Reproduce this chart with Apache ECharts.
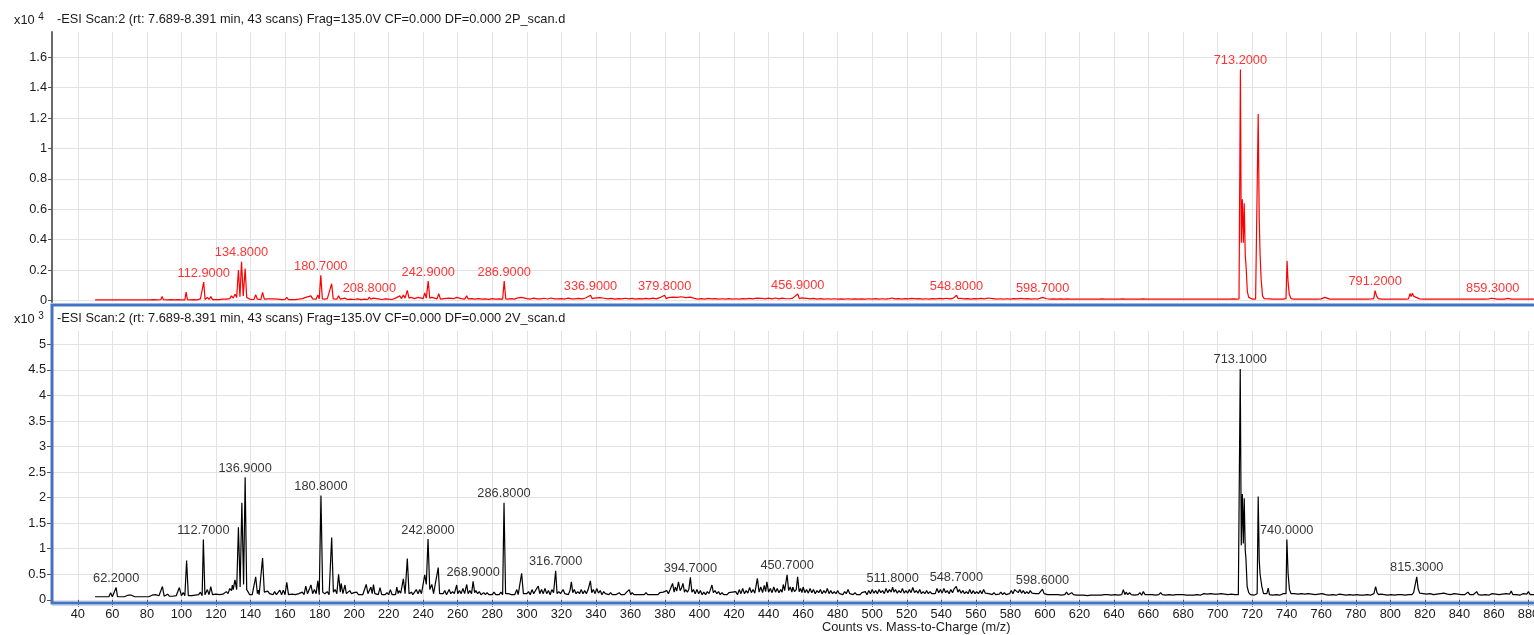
<!DOCTYPE html>
<html>
<head>
<meta charset="utf-8">
<title>ESI scan spectra</title>
<script src="https://cdn.jsdelivr.net/npm/echarts@6/dist/echarts.min.js"></script>
<style>
  html, body { margin: 0; padding: 0; background: #fff; overflow: hidden; }
  #chart { width: 1534px; height: 635px; }
</style>
</head>
<body>
<div id="chart"></div>
<script>
// tick labels
const mzTicks = [40, 60, 80, 100, 120, 140, 160, 180, 200, 220, 240, 260, 280, 300, 320, 340, 360, 380, 400,
  420, 440, 460, 480, 500, 520, 540, 560, 580, 600, 620, 640, 660, 680, 700, 720, 740, 760, 780, 800,
  820, 840, 860, 880]
const topTicks = [0, 0.2, 0.4, 0.6, 0.8, 1, 1.2, 1.4, 1.6]
const bottomTicks = [0, 0.5, 1, 1.5, 2, 2.5, 3, 3.5, 4, 4.5, 5]

const topTitle = '-ESI Scan:2 (rt: 7.689-8.391 min, 43 scans) Frag=135.0V CF=0.000 DF=0.000 2P_scan.d'
const bottomTitle = '-ESI Scan:2 (rt: 7.689-8.391 min, 43 scans) Frag=135.0V CF=0.000 DF=0.000 2V_scan.d'
const xName = 'Counts vs. Mass-to-Charge (m/z)'

// 2P scan, counts x10^4  [m/z, counts]
const topSpectrum = [
  [50,.003],[52,.003],[54,.003],[56,.003],[58,.004],[59,.008],[60,.003],[62,.004],[64,.003],[66,.003],[68,.003],
  [70,.004],[70.8,.009],[71.6,.003],[74,.003],[76,.003],[78,.003],[80,.003],[82,.004],[84,.005],[86,.004],[88,.005],
  [88.8,.026],[89.6,.005],[92,.004],[94,.005],[96,.004],[98,.005],[99,.01],[100,.004],[101,.006],[102,.004],
  [102.7,.055],[103.5,.005],[105,.004],[107,.005],[109,.004],[110,.006],[111,.01],[112,.005],[112.9,.12],[113.7,.006],
  [115,.02],[116,.006],[117,.025],[118,.005],[120,.006],[122,.005],[124,.008],[125,.015],[126,.008],[127,.02],
  [128,.012],[129,.03],[130,.015],[131,.04],[132,.02],[133,.2],[133.9,.025],[134.8,.255],[135.8,.03],[136.9,.21],
  [137.8,.02],[138.7,.01],[140,.006],[141,.005],[142,.006],[143,.037],[144,.008],[145,.012],[146,.006],[147,.053],
  [148,.008],[149,.006],[150,.01],[151,.005],[153,.01],[154,.005],[156,.008],[157,.012],[158,.005],[159,.012],
  [160,.006],[161,.02],[162,.005],[164,.006],[166,.005],[168,.008],[170,.012],[171,.006],[172,.02],[173,.008],
  [175,.03],[176,.01],[177,.015],[178,.008],[179,.035],[179.8,.01],[180.7,.165],[181.6,.01],[183,.008],[184.5,.012],
  [185.5,.006],[187,.11],[187.9,.01],[189,.012],[190,.008],[191,.03],[192,.008],[193,.012],[194.7,.015],[196,.006],
  [198,.008],[200,.006],[202,.01],[204,.005],[206,.008],[207,.015],[208,.006],[208.8,.022],[209.7,.008],[211,.015],
  [212,.006],[214,.01],[215,.015],[216,.006],[218,.01],[220,.008],[221,.012],[222,.006],[224,.015],[225,.008],
  [226.5,.03],[227.5,.012],[228.5,.035],[229.5,.015],[230.8,.066],[231.8,.015],[233,.02],[234,.01],[235,.012],
  [237,.02],[238,.008],[240,.012],[240.9,.05],[241.8,.015],[242.9,.127],[243.8,.015],[245,.02],[246,.008],[248,.01],
  [249,.044],[250,.008],[252,.012],[253,.006],[255,.015],[256,.008],[258,.012],[259.4,.02],[260.5,.008],[262,.012],
  [263,.015],[264,.008],[265.2,.03],[266,.01],[268,.012],[269,.02],[270,.008],[272,.012],[274,.008],[276,.01],
  [278,.007],[280,.012],[282,.008],[284,.01],[285,.015],[286,.008],[286.9,.127],[287.8,.01],[289,.008],[291,.012],
  [293,.008],[294.2,.015],[295,.008],[297,.02],[298,.008],
  [300,.012],[302,.009],[304,.015],[306,.01],[307,.02],[308,.01],[310,.014],[312,.009],[314,.016],[316,.01],
  [317,.02],[318,.01],[320,.012],[322,.009],[324,.015],[326,.01],[327,.022],[328,.01],[330,.013],[332,.01],
  [334,.016],[335,.01],[336.9,.034],[337.8,.012],[339,.015],[340,.01],[342,.018],[343,.01],[345,.014],[347,.01],
  [349,.013],[351,.009],[353,.012],[355,.01],[357,.014],[359,.01],[361,.013],[363,.009],[365,.012],[367,.01],
  [369,.013],[371,.01],[373,.015],[375,.01],[377,.018],[378,.011],[379.8,.034],[380.7,.012],[382,.018],[383,.01],
  [384.5,.022],[385.5,.011],[387,.02],[388,.012],[389.5,.024],[390.5,.011],[392,.018],[393,.01],[394.7,.022],
  [395.6,.01],[397,.013],[399,.009],[401,.012],[403,.009],[405,.013],[407,.01],[409,.012],[411,.009],[413,.011],
  [415,.009],[417,.012],[419,.009],[421,.011],[423,.009],[425,.012],[427,.01],[429,.013],[431,.01],[433,.015],
  [434,.01],[436,.014],[438,.01],[440,.015],[442,.01],[444,.016],[446,.01],[448,.015],[450,.011],[451,.02],
  [452,.011],[454,.015],[455,.01],[456.9,.042],[457.8,.012],[459,.016],[460,.01],[462,.014],[464,.01],[466,.013],
  [468,.009],[470,.012],[472,.009],[474,.011],[476,.009],[478,.011],[480,.009],[482,.01],[484,.008],[486,.011],
  [488,.009],[490,.01],[492,.008],[494,.01],[496,.009],[498,.011],[500,.009],[502,.012],[504,.009],[506,.011],
  [508,.009],[510,.012],[511.8,.016],[513,.01],[515,.012],[517,.009],[519,.012],[521,.01],[523,.013],[525,.01],
  [527,.012],[529,.009],[531,.011],[533,.009],[535,.012],[537,.01],[539,.013],[541,.01],[543,.014],[545,.01],
  [547,.015],[548,.01],[548.8,.034],[549.7,.012],[551,.014],[553,.01],[555,.012],[557,.009],[559,.012],[561,.01],
  [563,.013],[565,.01],[567,.016],[568,.01],[570,.012],[572,.009],[574,.011],[576,.009],[578,.011],[580,.009],
  [582,.012],[584,.01],[586,.013],[588,.01],[590,.012],[592,.009],[594,.011],[596,.009],[598.7,.02],[599.6,.01],
  [601,.011],[603,.009],[605,.01],[607,.008],[609,.01],[611,.008],[613,.01],[615,.008],[617,.009],[619,.008],
  [621,.009],[623,.008],[625,.009],[627,.008],[629,.009],[631,.008],[633,.01],[635,.008],[637,.009],[639,.008],
  [641,.009],[643,.008],[645,.01],[647,.008],[649,.009],[651,.008],[653,.009],[655,.008],[657,.01],[659,.008],
  [661,.009],[663,.008],[665,.009],[667,.008],[669,.009],[671,.008],[673,.009],[675,.008],[677,.009],[679,.008],
  [681,.009],[683,.008],[685,.009],[687,.008],[689,.009],[691,.008],[693,.009],[695,.008],[697,.009],[699,.008],
  [701,.009],[703,.008],[705,.009],[707,.008],[709,.01],[711,.008],[712.4,.01],[713.2,1.52],[713.7,.38],[714.3,.665],
  [714.9,.38],[715.4,.64],[716,.3],[716.5,.22],[717.2,.06],[718,.02],[719,.01],[720,.009],[721,.008],[722,.009],
  [722.9,.012],[723.5,1.227],[724.1,.53],[724.6,.3],[725.2,.14],[726,.03],[727,.012],[728,.009],[730,.01],[732,.008],
  [734,.009],[736,.008],[738,.009],[739.6,.012],[740.2,.26],[740.8,.12],[741.5,.04],[742.5,.012],[744,.009],
  [746,.008],[748,.009],[750,.008],[752,.009],[754,.008],[756,.009],[758,.008],[760,.01],[761,.009],[762,.02],
  [763,.009],[765,.008],[767,.009],[769,.008],[771,.009],[773,.008],[775,.009],[777,.008],[779,.009],[781,.008],
  [783,.009],[785,.008],[787,.009],[789,.01],[790.4,.012],[791.2,.064],[792,.03],[793,.012],[795,.009],[797,.008],
  [799,.009],[801,.008],[803,.009],[805,.008],[807,.009],[809,.008],[810.5,.01],[811.4,.045],[812,.025],[812.8,.047],
  [813.5,.028],[814.2,.04],[815,.02],[816,.015],[817,.01],[819,.009],[821,.008],[823,.009],[825,.008],[827,.009],
  [829,.008],[831,.009],[833,.008],[835,.009],[837,.008],[839,.009],[841,.008],[843,.009],[845,.008],[847,.009],
  [849,.008],[851,.009],[853,.008],[855,.009],[857,.01],[858.5,.014],[859.3,.02],[860.2,.012],[862,.009],[864,.008],
  [866,.009],[868,.013],[870,.009],[872,.008],[874,.009],[876,.008],[878,.009],[880,.008],[882,.009],[883.2,.008]
]

// 2V scan, counts x10^3  [m/z, counts]
const bottomSpectrum = [
  [50,.06],[51,.06],[52,.06],[53,.06],[54,.06],[55,.06],[56,.06],[57,.07],[58,.06],[59,.14],
  [60,.06],[61,.07],[62.2,.24],[63,.06],[64,.06],[65,.06],[66,.06],[67,.06],[68,.07],[69,.09],
  [70,.06],[71,.09],[72,.06],[73,.06],[74,.06],[75,.06],[76,.06],[77,.06],[78,.06],[79,.06],
  [80,.06],[81,.06],[82,.07],[83,.09],[84,.08],[85,.1],[86,.07],[87,.08],[88,.09],[89,.26],
  [90,.07],[91,.07],[92,.11],[93,.07],[94,.08],[95,.07],[96,.07],[97,.08],[98,.1],[98.8,.24],
  [100,.08],[101,.14],[102,.08],[103,.77],[104,.08],[105,.07],[106,.08],[107,.08],[108,.09],[109,.08],
  [110,.1],[111,.15],[112,.08],[112.7,1.18],[113.6,.1],[114,.12],[115,.2],[116,.1],[117,.26],[118,.1],
  [119,.09],[120,.11],[121,.09],[122,.1],[123,.09],[124,.11],[125,.1],[126,.16],[127,.12],[128,.22],[129,.18],[129.5,.29],
  [130,.2],[131,.39],[132,.2],[133,1.42],[134,.25],[135,1.9],[136,.3],[136.9,2.4],[137.8,.2],[138.7,.15],[139.5,.1],
  [140,.12],[141,.1],[142,.1],[143,.45],[144,.12],[144.5,.19],[145,.1],[146,.12],[147,.82],[148,.15],[149,.13],
  [150,.17],[151,.12],[152,.15],[153,.1],[154,.16],[155,.1],[156,.1],[157,.19],[158,.1],[159,.19],
  [160,.1],[161,.34],[162,.1],[163,.09],[164,.11],[165,.09],[166,.1],[167,.09],[168,.12],[169,.1],
  [170,.15],[171,.1],[172,.27],[173,.12],[174,.2],[175,.29],[176,.12],[177,.2],[178,.12],[179,.37],
  [179.8,.1],[180.8,2.04],[181.8,.15],[183,.12],[184.5,.16],[185.5,.1],[187,1.22],[188,.15],[189,.2],
  [190,.12],[191,.5],[192,.15],[192.5,.32],[193.5,.12],[194.7,.29],[195.5,.12],[196,.15],[197.5,.18],[198.5,.12],[199,.1],
  [200,.14],[201.5,.15],[202.5,.1],[203.5,.12],[205,.1],[206,.12],[207,.3],[208,.12],[209.7,.25],
  [210.5,.12],[211.2,.3],[212,.12],[213,.14],[214,.1],[215,.24],[216,.1],[217,.12],[218,.1],[219,.14],
  [220,.1],[221,.2],[222,.1],[223,.12],[224,.1],[224.7,.25],[225.5,.12],[226,.18],[227,.13],[228.5,.41],[229.5,.12],
  [230.8,.81],[231.8,.12],[233.3,.15],[234,.1],[235,.15],[236,.2],[237,.12],[238,.2],[239,.12],
  [240,.15],[240.9,.49],[241.8,.3],[242.8,1.19],[243.8,.2],[245,.3],[246,.12],[247,.1],[248.7,.63],[249.5,.12],
  [250.5,.15],[251.5,.12],[252.5,.18],[253.5,.1],[255,.2],[256,.12],[257,.16],[258,.12],[259.4,.29],[260,.12],
  [261,.18],[262,.12],[263,.22],[264,.12],[265.2,.3],[266,.12],[267,.18],[268,.12],[268.9,.36],[269.8,.14],
  [270.5,.18],[271.5,.12],[272.5,.16],[273.5,.1],[275,.14],[276,.1],[277,.14],[278,.1],[279,.12],
  [280,.1],[281,.15],[282,.1],[283,.13],[284,.1],[285,.15],[286,.1],[286.8,1.9],[287.7,.12],[288.5,.1],[289.5,.12],
  [290.3,.15],[291,.1],[292,.12],[293,.1],[294.2,.2],[295,.1],[296,.12],[297,.52],[298,.12],[299,.15],
  [300,.12],[301,.16],[302,.1],[303,.2],[304,.12],[305,.18],[306.6,.27],[307.5,.12],[308.5,.2],[309.5,.12],
  [310.5,.22],[311.5,.12],[312.5,.18],[313.5,.1],[314.5,.2],[315.5,.14],[316.7,.57],[317.5,.12],[318.5,.16],[319.5,.12],
  [321,.2],[322,.12],[323,.15],[324,.1],[325,.18],[325.8,.35],[326.6,.14],[327.5,.2],[328.5,.12],[329.5,.16],
  [330.5,.12],[331.5,.2],[332.5,.12],[333.5,.18],[334.5,.12],[335.5,.2],[336.8,.37],[337.6,.14],[338.5,.2],[339.5,.12],
  [340.5,.22],[341.5,.13],[342.5,.18],[343.5,.1],[344.5,.16],[345.5,.12],[346.5,.15],[347.5,.1],[348.5,.14],[349.5,.1],
  [350.5,.13],[351.5,.1],[352.5,.12],[353.5,.14],[354.5,.1],[355.5,.12],[356.5,.1],[357.5,.14],[358.5,.12],[359.3,.2],
  [360.2,.1],[361,.14],[362,.1],[363,.12],[364,.1],[365,.13],[366,.1],[367,.12],[368,.1],[369,.14],
  [370,.1],[371,.12],[372,.1],[373,.13],[374,.1],[375,.12],[376,.1],[377,.14],[378,.12],[379,.15],
  [380,.12],[381,.18],[382,.12],[383,.2],[384.4,.32],[385.3,.15],[386,.25],[386.8,.17],[387.8,.35],[388.8,.18],[389.5,.22],
  [390.4,.32],[391.3,.15],[392,.2],[393,.15],[393.8,.2],[394.7,.44],[395.6,.15],[396.5,.2],[397.5,.12],[398.5,.2],[399.5,.12],
  [400.5,.18],[401.5,.1],[402.5,.15],[403.5,.1],[404.5,.16],[405.5,.12],[406.3,.2],[407.2,.29],[408,.14],[409,.18],
  [410,.12],[411,.16],[412,.1],[413,.14],[414,.1],[415,.12],[416,.1],[417,.14],[418,.12],[419,.15],
  [420,.12],[421,.16],[422,.1],[423,.2],[424,.12],[425,.22],[426,.12],[427,.18],[428,.13],[429,.24],
  [430,.14],[431,.2],[432,.13],[433.5,.42],[434.5,.15],[435.5,.25],[436.5,.14],[437.5,.28],[438.3,.16],[439,.35],
  [440,.15],[441,.22],[442,.14],[443,.25],[444,.15],[445,.22],[446,.14],[447,.2],[447.8,.15],[448.5,.3],[449.3,.18],
  [450,.2],[450.7,.49],[451.6,.18],[452.5,.25],[453.5,.15],[454,.25],[455,.16],[456,.2],[456.8,.45],[457.7,.16],[458.5,.22],[459.3,.14],
  [460,.25],[461,.14],[462,.2],[463,.13],[464,.22],[465,.14],[466,.2],[467,.12],[468,.18],[469,.14],
  [470,.2],[471,.12],[472,.18],[473,.13],[474,.22],[475,.12],[476,.18],[477,.12],[478,.16],[479,.12],
  [480,.18],[481,.12],[482,.15],[483,.1],[484,.16],[485,.12],[486,.2],[487,.12],[488,.15],[489,.1],
  [490,.14],[491,.1],[492,.13],[493,.1],[494,.14],[495,.12],[496,.16],[497,.1],[498,.18],[499,.12],
  [500,.2],[501,.13],[502,.18],[503,.12],[504,.2],[505,.14],[506,.18],[507,.12],[508,.22],[509,.14],
  [510,.2],[511,.15],[511.8,.25],[512.6,.15],[513.5,.2],[514.5,.13],[515.5,.18],[516.5,.14],[517.5,.22],[518.5,.13],[519.5,.18],
  [520.5,.13],[521.5,.2],[522.5,.14],[523.5,.24],[524.5,.14],[525.5,.18],[526.5,.13],[527.5,.2],[528.5,.12],[529.5,.16],
  [530.5,.12],[531.5,.18],[532.5,.12],[533.5,.16],[534.5,.12],[535.5,.15],[536.5,.12],[537.5,.22],[538.5,.14],[539.5,.2],
  [540.5,.13],[541.5,.22],[542.5,.14],[543.5,.18],[544.5,.12],[545.5,.2],[546.5,.14],[547.5,.22],[548.7,.26],[549.6,.15],
  [550.5,.2],[551.5,.13],[552.5,.18],[553.5,.12],[554.5,.16],[555.5,.12],[556.5,.2],[557.5,.12],[558.5,.18],[559.5,.12],
  [560.5,.16],[561.5,.12],[562.5,.18],[563.5,.12],[564.5,.2],[565.5,.13],[566.5,.16],[567.5,.12],[568.5,.15],[569.5,.1],
  [570.5,.14],[571.5,.1],[572.5,.13],[573.5,.11],[574.5,.15],[575.5,.1],[576.5,.14],[577.5,.1],[578.5,.13],[579.5,.12],
  [580.5,.18],[581.5,.12],[582.5,.2],[583.5,.22],[584.5,.14],[585.5,.2],[586.5,.13],[587.5,.18],[588.5,.12],[589.5,.16],
  [590.5,.12],[591.5,.18],[592.5,.13],[593.5,.16],[594.5,.12],[595.5,.15],[596.5,.12],[597.5,.14],[598.6,.21],[599.5,.12],
  [600.5,.15],[601.5,.1],[602.5,.13],[603.5,.1],[604.5,.12],[605.5,.1],[606.5,.13],[607.5,.1],[608.5,.12],[609.5,.09],
  [610.5,.12],[611.5,.1],[612.5,.15],[613.5,.1],[614.5,.12],[615.5,.14],[616.5,.1],[617.5,.11],[618.5,.09],[619.5,.1],
  [620.5,.09],[621.5,.11],[622.5,.09],[623.5,.1],[624.5,.08],[625.5,.1],[626.5,.09],[627.5,.12],[628.5,.09],[629.5,.1],
  [630.5,.09],[631.5,.11],[632.5,.09],[633.5,.12],[634.5,.1],[635.5,.13],[636.5,.1],[637.5,.12],[638.5,.09],[639.5,.11],
  [640.5,.1],[641.5,.13],[642.5,.09],[643.5,.12],[644.5,.1],[645.4,.2],[646.3,.1],[647,.15],[648,.1],[649,.14],
  [650,.1],[651,.13],[652,.09],[653,.12],[654,.1],[655,.14],[656,.09],[657,.16],[658,.1],[659,.12],
  [660,.1],[661,.13],[662,.1],[663,.12],[664,.09],[665,.11],[666,.1],[667,.14],[668,.1],[669,.12],
  [670,.09],[671,.12],[672,.1],[673,.11],[674,.09],[675,.12],[676,.1],[677,.13],[678,.1],[679,.11],
  [680,.1],[681,.12],[682,.09],[683,.1],[684,.09],[685,.11],[686,.09],[687,.12],[688,.1],[689,.11],
  [690,.09],[691,.1],[692,.12],[693,.1],[694,.11],[695,.09],[696,.12],[697,.1],[698,.11],[699,.09],
  [700,.11],[701,.1],[702,.12],[703,.1],[704,.11],[705,.09],[706,.1],[707,.09],[708,.11],[709,.09],
  [710,.1],[711,.09],[712,.1],[712.5,.12],[713.1,4.52],[713.7,1.07],[714.3,2.07],[714.9,1.1],[715.4,1.99],[716,.97],
  [716.4,.81],[717.1,.26],[718,.14],[719,.1],
  [720,.11],[721,.09],[722,.1],[722.9,.12],[723.5,2.02],[724.1,.78],[724.6,.5],[725.6,.26],[726.6,.12],[727.5,.1],[728.5,.12],[729.3,.23],
  [730,.1],[731,.12],[732,.09],[733,.11],[734,.1],[735,.12],[736,.09],[737,.1],[738,.12],[739,.1],[739.6,.12],
  [740.1,1.18],[740.8,.52],[741.6,.2],[742.5,.12],[743.5,.1],[744.5,.12],[745.5,.1],[746.5,.11],[747.5,.09],[748.5,.12],[749.5,.1],
  [750.5,.11],[751.5,.09],[752.5,.12],[753.5,.1],[754.5,.11],[755.5,.09],[756.5,.1],[757.5,.09],[758.5,.11],[759.5,.1],
  [760.5,.12],[761.5,.09],[762.5,.1],[763.5,.12],[764.5,.09],[765.5,.11],[766.5,.1],[767.5,.12],[768.5,.09],[769.5,.1],
  [770.5,.11],[771.5,.09],[772.5,.1],[773.5,.12],[774.5,.09],[775.5,.11],[776.5,.1],[777.5,.12],[778.5,.09],[779.5,.11],
  [780.5,.1],[781.5,.12],[782.5,.09],[783.5,.1],[784.5,.09],[785.5,.11],[786.5,.1],[787.5,.12],[788.5,.09],[789.5,.1],
  [790.5,.12],[791.5,.26],[792.3,.14],[793.2,.1],[794.5,.11],[795.5,.09],[796.5,.1],[797.5,.12],[798.5,.09],[799.5,.11],
  [800.5,.1],[801.5,.11],[802.5,.09],[803.5,.12],[804.5,.1],[805.5,.13],[806.5,.1],[807.5,.11],[808.5,.09],[809.5,.12],
  [810.5,.1],[811.5,.12],[812.5,.1],[813.5,.14],[814.5,.16],[815.3,.45],[816.1,.22],[817,.13],[818,.1],[819,.12],
  [820,.09],[821,.11],[822,.1],[823,.12],[824,.09],[825,.1],[826,.09],[827,.11],[828,.1],[829,.12],
  [830,.1],[831,.13],[832,.1],[833,.11],[834,.09],[835,.1],[836,.09],[837,.12],[838,.1],[839,.11],
  [840,.09],[841,.1],[842,.12],[843,.1],[844,.13],[845,.15],[846,.1],[847,.12],[848,.1],[849,.13],
  [850,.16],[851,.1],[852,.11],[853,.09],[854,.12],[855,.1],[856,.11],[857,.09],[858,.1],[859,.12],
  [860,.1],[861,.11],[862,.09],[863,.1],[864,.09],[865,.11],[866,.1],[867,.12],[868,.1],[869,.11],
  [870,.17],[871,.1],[872,.12],[873,.1],[874,.11],[875,.09],[876,.1],[877,.12],[878,.1],[879,.11],
  [880,.16],[881,.1],[882,.12],[883.2,.1]
]

// labelled peaks [m/z, counts]
const topPeaks = [
  [112.9,.12],[134.8,.255],[180.7,.165],[208.8,.022],[242.9,.127],[286.9,.127],[336.9,.034],[379.8,.034],
  [456.9,.042],[548.8,.034],[598.7,.02],[713.2,1.52],[791.2,.064],[859.3,.02]
]
const bottomPeaks = [
  [62.2,.24],[112.7,1.18],[136.9,2.4],[180.8,2.04],[242.8,1.19],[268.9,.36],[286.8,1.9],[316.7,.57],
  [394.7,.44],[450.7,.49],[511.8,.25],[548.7,.26],[598.6,.21],[713.1,4.52],[740,1.18],[815.3,.45]
]

const font = '"Liberation Sans", Arial, sans-serif'
const gridColor = '#e3e3e3'
const blue = '#4472c4'
const textColor = '#1a1a1a'
const fs = 12.8

const titleStyle = { fontSize: fs, fontWeight: 'normal', color: textColor, fontFamily: font }
const expStyle = {
    a: { fontSize: fs, fontWeight: 'normal', color: textColor, fontFamily: font },
    b: { fontSize: 10, fontWeight: 'normal', color: textColor, fontFamily: font, padding: [0, 0, 6, 0] }
}

const xAxisBase = {
    type: 'value',
    min: 25.06,
    max: 883.2,
    splitLine: { show: true, lineStyle: { color: gridColor, width: 1 } }
}

const chart = echarts.init(document.getElementById('chart'), null, { renderer: 'canvas' })

chart.setOption({
    animation: false,
    textStyle: { fontFamily: font },
    title: [
        { text: topTitle, left: 57, top: 13, padding: 0, textStyle: titleStyle },
        { text: bottomTitle, left: 57, top: 312, padding: 0, textStyle: titleStyle },
        { text: '{a|x10 }{b|4}', left: 14, top: 12, padding: 0, textStyle: { fontWeight: 'normal', rich: expStyle } },
        { text: '{a|x10 }{b|3}', left: 14, top: 311, padding: 0, textStyle: { fontWeight: 'normal', rich: expStyle } },
        { text: xName, left: 822, top: 621, padding: 0, textStyle: titleStyle }
    ],
    grid: [
        { left: 52, right: 0, top: 32, height: 270, outerBoundsMode: 'none' },
        { left: 52, right: 0, top: 331, height: 271, outerBoundsMode: 'none' }
    ],
    xAxis: [
        Object.assign({}, xAxisBase, {
            gridIndex: 0,
            axisLine: { show: false },
            axisTick: { show: false, customValues: mzTicks },
            axisLabel: { show: false, customValues: mzTicks }
        }),
        Object.assign({}, xAxisBase, {
            gridIndex: 1,
            axisLine: { show: false },
            axisTick: { show: true, length: 7, customValues: mzTicks, lineStyle: { color: '#555' } },
            axisLabel: { customValues: mzTicks, margin: 6, fontSize: fs, color: textColor, fontFamily: font }
        })
    ],
    yAxis: [
        {
            gridIndex: 0,
            type: 'value',
            min: -0.0105,
            max: 1.7665,
            axisLine: { show: true, lineStyle: { color: '#6a6a6a', width: 2 } },
            axisTick: { show: true, length: 4, customValues: topTicks, lineStyle: { color: '#555' } },
            axisLabel: { customValues: topTicks, margin: 5, fontSize: fs, color: textColor, fontFamily: font },
            splitLine: { show: true, lineStyle: { color: gridColor, width: 1 } }
        },
        {
            gridIndex: 1,
            type: 'value',
            min: -0.043,
            max: 5.262,
            axisLine: { show: false },
            axisTick: { show: true, length: 5, customValues: bottomTicks, lineStyle: { color: '#555' } },
            axisLabel: { customValues: bottomTicks, margin: 6, fontSize: fs, color: textColor, fontFamily: font },
            splitLine: { show: true, lineStyle: { color: gridColor, width: 1 } }
        }
    ],
    // blue frame of the selected (lower) panel
    graphic: [
        { type: 'rect', z: 100, silent: true,
          shape: { x: 52, y: 305, width: 1500, height: 298 },
          style: { fill: null, stroke: blue, lineWidth: 3 } },
        { type: 'line', z: 100, silent: true,
          shape: { x1: 52, y1: 605.5, x2: 1534, y2: 605.5 },
          style: { stroke: '#c9d6ee', lineWidth: 1 } }
    ],
    series: [
        {
            type: 'line', xAxisIndex: 0, yAxisIndex: 0,
            data: topSpectrum, symbol: 'none', silent: true,
            lineStyle: { color: '#ff0000', width: 1.2 }
        },
        {
            type: 'scatter', xAxisIndex: 0, yAxisIndex: 0,
            data: topPeaks, symbolSize: 1, silent: true,
            itemStyle: { color: 'rgba(0,0,0,0)' },
            label: { show: true, position: 'top', distance: 2, color: '#ff0000', fontSize: fs, fontFamily: font,
                     formatter: p => p.value[0].toFixed(4) }
        },
        {
            type: 'line', xAxisIndex: 1, yAxisIndex: 1,
            data: bottomSpectrum, symbol: 'none', silent: true,
            lineStyle: { color: '#000', width: 1.2 }
        },
        {
            type: 'scatter', xAxisIndex: 1, yAxisIndex: 1,
            data: bottomPeaks, symbolSize: 1, silent: true,
            itemStyle: { color: 'rgba(0,0,0,0)' },
            label: { show: true, position: 'top', distance: 2, color: '#000', fontSize: fs, fontFamily: font,
                     formatter: p => p.value[0].toFixed(4) }
        }
    ]
})
</script>
</body>
</html>
